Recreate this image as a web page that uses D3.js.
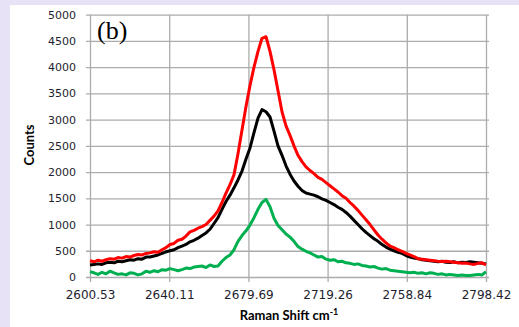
<!DOCTYPE html>
<html><head><meta charset="utf-8">
<script src="https://cdn.jsdelivr.net/npm/d3@7"></script>
<style>
html,body{margin:0;padding:0;background:#e8e2f6;}
svg{display:block;}
</style></head>
<body>
<svg id="chart" width="519" height="327"></svg>
<script>
// x range of the spectrum (cm-1) and tick labels
const xStart = 2600.53, xEnd = 2798.42;
const xTickLabels = ["2600.53","2640.11","2679.69","2719.26","2758.84","2798.42"];
const yTicks = [0,500,1000,1500,2000,2500,3000,3500,4000,4500,5000];

const redCounts = [310,290,320,300,330,350,340,370,360,390,380,410,430,420,450,460,480,470,520,560,
620,640,700,720,780,860,890,930,960,1000,1080,1160,1260,1420,1600,1760,1950,2350,2800,3250,
3650,4000,4300,4550,4580,4300,3950,3550,3150,2880,2700,2500,2320,2200,2100,2030,1970,1900,1860,1800,
1740,1680,1620,1550,1500,1420,1350,1270,1180,1090,1000,900,800,720,650,590,560,520,490,450,
420,390,350,340,330,320,310,300,295,300,290,280,270,260,265,250,240,260,270,230];

const blackCounts = [230,240,250,240,270,280,270,300,290,310,330,320,350,340,380,380,400,420,450,480,
500,520,560,590,620,670,700,740,790,840,910,1020,1130,1290,1440,1560,1700,1850,2020,2250,
2460,2750,3030,3190,3150,3050,2780,2500,2320,2120,1960,1830,1730,1650,1600,1580,1560,1530,1490,1460,
1420,1380,1330,1290,1230,1160,1080,1000,920,850,790,730,680,620,570,530,500,470,450,410,
380,360,350,330,320,310,300,290,300,280,275,290,270,280,275,290,280,270,260,250];

const greenCounts = [100,80,50,90,60,110,80,50,60,40,80,70,40,60,110,90,120,100,140,130,
160,140,120,140,170,160,190,200,210,180,230,200,210,300,370,420,520,680,790,880,
990,1130,1290,1420,1480,1340,1120,980,900,820,760,680,580,530,490,460,420,380,390,340,
320,330,290,300,270,260,240,250,220,210,190,200,170,150,160,130,120,110,100,90,
80,90,70,80,60,80,70,50,60,40,50,40,30,40,30,30,40,50,40,100];

const n = redCounts.length;
const ramanShift = d3.range(n).map(i => xStart + i * (xEnd - xStart) / (n - 1));

const svg = d3.select("#chart");
// white panel
svg.append("rect").attr("x",10).attr("y",5).attr("width",509).attr("height",322).attr("fill","#ffffff");

const pLeft = 90, pRight = 486, pTop = 14.7, pBottom = 277;
const x = d3.scaleLinear().domain([xStart, xEnd]).range([pLeft, pRight]);
const y = d3.scaleLinear().domain([0, 5000]).range([pBottom, pTop]);

const gridColor = "#acacac";
// horizontal gridlines + y ticks
const yAxis = d3.axisLeft(y).tickValues(yTicks).tickSize(-(pRight + 3 - pLeft)).tickPadding(10).tickFormat(d3.format("d"));
const gy = svg.append("g").attr("transform",`translate(${pLeft},0)`).call(yAxis);
gy.select(".domain").remove();
gy.selectAll(".tick line").attr("stroke",gridColor).attr("stroke-width",1.3).attr("x1",-4);
gy.selectAll(".tick text").attr("font-family","DejaVu Sans").attr("font-size",11).attr("fill","#1e1e2e").attr("x",-14);

// vertical gridlines + x ticks
const xTickVals = xTickLabels.map(Number);
const xAxis = d3.axisBottom(x).tickValues(xTickVals).tickSize(0).tickFormat((d,i)=>xTickLabels[i]);
const gx = svg.append("g").attr("transform",`translate(0,${pBottom})`).call(xAxis);
gx.select(".domain").remove();
gx.selectAll(".tick line").attr("stroke",gridColor).attr("stroke-width",1.3).attr("y1",5).attr("y2",-(pBottom-pTop));
gx.selectAll(".tick text").attr("font-family","DejaVu Sans").attr("font-size",12).attr("fill","#1e1e2e").attr("y",13).attr("dy","0.71em");

// series
const line = d3.line().x((d,i)=>x(ramanShift[i])).y(d=>y(d));
const series = [
  {vals: greenCounts, color:"#00b050"},
  {vals: blackCounts, color:"#000000"},
  {vals: redCounts, color:"#ff0000"}
];
series.forEach(s=>{
  svg.append("path").datum(s.vals).attr("d",line).attr("fill","none")
    .attr("stroke",s.color).attr("stroke-width",3).attr("stroke-linejoin","round");
});

// labels
svg.append("text").attr("x",97).attr("y",39).attr("font-family","Liberation Serif").attr("font-size",26).attr("fill","#000").text("(b)");

svg.append("text").attr("transform","translate(34,145) rotate(-90)").attr("text-anchor","middle")
  .attr("font-family","Lato").attr("font-weight","bold").attr("font-size",13).attr("fill","#000").text("Counts");

const xt = svg.append("text").attr("x",289).attr("y",320).attr("text-anchor","middle")
  .attr("font-family","Lato").attr("font-weight","bold").attr("font-size",13).attr("fill","#000");
xt.append("tspan").text("Raman Shift cm");
xt.append("tspan").attr("font-size",9).attr("dy",-5).text("-1");
</script>
</body></html>
